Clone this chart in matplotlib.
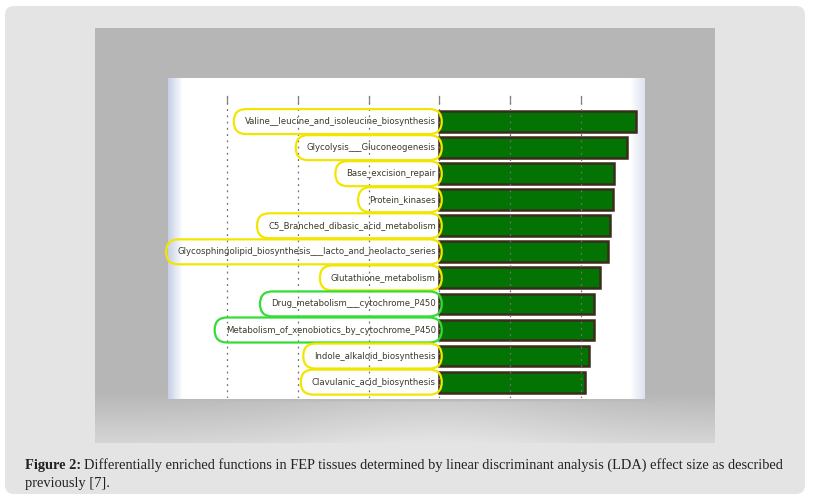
import numpy as np
import matplotlib
matplotlib.use("Agg")
import matplotlib.pyplot as plt
from matplotlib.patches import FancyBboxPatch
from matplotlib.transforms import IdentityTransform

# LEfSe-style LDA scores
functions = [
    "Valine__leucine_and_isoleucine_biosynthesis",
    "Glycolysis___Gluconeogenesis",
    "Base_excision_repair",
    "Protein_kinases",
    "C5_Branched_dibasic_acid_metabolism",
    "Glycosphingolipid_biosynthesis___lacto_and_neolacto_series",
    "Glutathione_metabolism",
    "Drug_metabolism___cytochrome_P450",
    "Metabolism_of_xenobiotics_by_cytochrome_P450",
    "Indole_alkaloid_biosynthesis",
    "Clavulanic_acid_biosynthesis",
]
lda_scores = [2.78, 2.65, 2.47, 2.45, 2.42, 2.39, 2.28, 2.19, 2.19, 2.12, 2.06]
circle_colors = ["#f2e600"] * 7 + ["#33dd33", "#33dd33"] + ["#f2e600"] * 2
grid_ticks = [-3, -2, -1, 0, 1, 2]

W, H = 814, 500
fig = plt.figure(figsize=(W / 100, H / 100), dpi=100)
fig.patch.set_facecolor("white")


def px_axes(x0, y0, x1, y1, **kw):
    return fig.add_axes([x0 / W, 1 - y1 / H, (x1 - x0) / W, (y1 - y0) / H], **kw)


# outer caption card
card = FancyBboxPatch((0.05, 0.06), 8.0, 4.88,
                      boxstyle="round,pad=0,rounding_size=0.09",
                      transform=fig.dpi_scale_trans, fc="#e4e4e4", ec="none",
                      zorder=-5)
fig.add_artist(card)

# photo background (gray, lighter reflection at the bottom)
photo = px_axes(95, 28, 715, 443)
rows = np.linspace(0, 1, 200)
shade = np.where(rows < 0.88, 0.71, 0.71 + (rows - 0.88) / 0.12 * 0.12)
cols = np.linspace(0, 1, 300)
img = shade[:, None] * np.ones_like(cols)[None, :]
img = img + 0.06 * np.exp(-((cols[None, :] - 0.55) / 0.25) ** 2) * (rows[:, None] > 0.9)
photo.imshow(np.dstack([img, img + 0.005, img]).clip(0, 1), aspect="auto",
             extent=[0, 1, 1, 0])
photo.set_axis_off()

# white application window
panel = px_axes(168, 78, 645, 399)
pc = np.linspace(0, 1, 400)
edge = np.clip(1 - pc / 0.03, 0, 1) * 0.2 + np.clip((pc - 0.97) / 0.03, 0, 1) * 0.12
pimg = np.ones((10, 400, 3))
pimg[..., 0] -= edge * 1.1
pimg[..., 1] -= edge * 0.9
pimg[..., 2] -= edge * 0.5
panel.imshow(pimg.clip(0, 1), aspect="auto", extent=[0, 1, 0, 1])
panel.set_axis_off()

# bar chart
x0_px, unit_px = 439.3, 70.7
ax_l, ax_r = 191.85, 640.85
ax = px_axes(ax_l, 95, ax_r, 398)
ax.patch.set_alpha(0)
ax.set_xlim((ax_l - x0_px) / unit_px, (ax_r - x0_px) / unit_px)
ypos = np.arange(len(functions))
ax.set_ylim(10.61, -1.02)
ax.barh(ypos, lda_scores, height=0.8, left=0, color="#037403",
        edgecolor="#3b2c1c", linewidth=1.8, zorder=2)
for t in grid_ticks:
    ax.axvline(t, color="#707070", lw=0.9, ls=(0, (1.5, 3.5)), zorder=3)
    ax.plot([t, t], [-1.0, -0.72], color="#808080", lw=0.9, zorder=3)
labels = []
for y, name in zip(ypos, functions):
    labels.append(ax.text(-0.05, y, name, ha="right", va="center", fontsize=6.8,
                          family="DejaVu Sans", stretch="condensed",
                          color="#3a3a2a", zorder=4))
ax.set_xticks([])
ax.set_yticks([])
for s in ax.spines.values():
    s.set_visible(False)

# hand-drawn style loops around the labels
fig.canvas.draw()
r = fig.canvas.get_renderer()
for lab, col in zip(labels, circle_colors):
    bb = lab.get_window_extent(renderer=r)
    x0, x1 = bb.x0 - 11, bb.x1 + 6
    y0, y1 = bb.y0 - 8, bb.y1 + 8
    loop = FancyBboxPatch((x0, y0), x1 - x0, y1 - y0,
                          boxstyle="round,pad=0,rounding_size=%g" % ((y1 - y0) / 2),
                          transform=IdentityTransform(), fc="none", ec=col,
                          lw=1.6, zorder=5)
    fig.add_artist(loop)

# caption
cap_font = "Liberation Serif"
cap_size = 10.4
bold = fig.text(25 / W, 1 - 465 / H, "Figure 2:", fontsize=cap_size, family=cap_font,
                weight="bold", va="center", color="#222222")
bb = bold.get_window_extent(renderer=r)
fig.text((bb.x1 + 3) / W, 1 - 465 / H,
         "Differentially enriched functions in FEP tissues determined by linear "
         "discriminant analysis (LDA) effect size as described",
         fontsize=cap_size, family=cap_font, va="center", color="#222222")
fig.text(25 / W, 1 - 483 / H, "previously [7].", fontsize=cap_size, family=cap_font,
         va="center", color="#222222")

fig.savefig("out.png", dpi=100)
